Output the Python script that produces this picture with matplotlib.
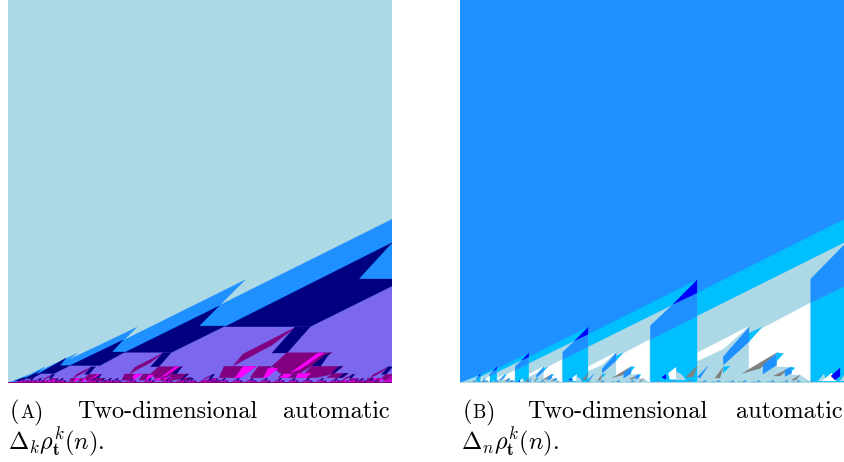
import matplotlib
matplotlib.use('Agg')
import matplotlib.pyplot as plt
from matplotlib.patches import Polygon

plt.rcParams['mathtext.fontset'] = 'cm'
plt.rcParams['font.family'] = ['cmr10', 'DejaVu Serif']
plt.rcParams['axes.formatter.use_mathtext'] = True

LIGHT = '#ADD8E6'
DODGER = '#1E90FF'
NAVY = '#000080'
VIOLET = '#7B68EE'
PURPLE = '#800080'
MAGENTA = '#FF00FF'
DEEP = '#00BFFF'
BLUE = '#0000FF'
GRAY = '#808080'
WHITE = '#FFFFFF'

# ---- panel A, outlines (x, y in pixels from bottom left)
a_dodger = [(384, 163.7), (212, 78), (237, 103), (116, 43), (128.7, 55.7), (60.3, 23), (69.3, 29.7),
            (32, 12.3), (37, 16.3), (17, 6), (20, 8), (0, 0), (384, 0)]
a_navy = [
    [(217, 56.3), (384, 140.3), (350.7, 104), (384, 104), (384, 97), (302, 56.3)],
    [(117, 30.7), (211, 77), (191, 57), (217, 57), (163.7, 30.7)],
    [(62, 17.5), (115, 43), (104, 31), (117, 31), (92, 17.5)],
    [(31, 9.5), (58, 25), (52, 17.5), (62, 17.5), (46, 9.5)],
    [(16, 4.5), (32, 12), (27, 9.5), (33, 9.5), (24, 4.5)],
    [(7, 2), (17, 6), (14, 4.5), (17, 4.5), (12, 2)],
]
a_violet = [(0, 0), (7, 1.5), (12, 2.2), (16, 4.5), (24, 4.5), (31, 9.5), (46, 9.5), (62, 17.5), (92, 17.5),
            (117, 31), (163.7, 31), (217, 57), (302, 56.3), (384, 97), (384, 0)]

# one purple group, drawn again smaller
a_group = [
    (PURPLE, [(288, 56), (235, 29), (225, 17), (264, 38)]),
    (NAVY, [(302, 56), (279, 30), (264, 30), (287, 56)]),
    (PURPLE, [(279, 30.3), (324, 30.3), (303.7, 17), (264, 17)]),
    (PURPLE, [(216, 16.7), (248, 16.7), (231, 5.3), (211, 5.3)]),
    (PURPLE, [(250.3, 16.7), (263.7, 16.7), (257, 5.3), (242, 5.3)]),
    (PURPLE, [(263.7, 17), (303.7, 17), (292, 9.7), (272, 9.7)]),
    (PURPLE, [(303.7, 16.7), (335.3, 16.7), (325, 9), (308, 5.3), (292, 5.3)]),
    (PURPLE, [(273.7, 9.7), (307, 9.7), (302, 5.3), (270.3, 5.3)]),
    (PURPLE, [(325.3, 9.7), (340.3, 9.7), (335, 5.3), (318.7, 5.3)]),
    (MAGENTA, [(310, 30), (316, 30), (292, 13.7), (282.7, 10.3)]),
    (NAVY, [(322, 30.3), (312.7, 17), (303.7, 17), (317, 28)]),
    (MAGENTA, [(235.3, 16.7), (248, 16.7), (232.7, 5.3), (227, 5.3)]),
    (MAGENTA, [(260.3, 14.7), (270.3, 14.7), (258.7, 5.3), (255.3, 5.3)]),
    (NAVY, [(334.3, 16.3), (330.3, 16.3), (323.7, 9.7), (326, 9.7)]),
    (MAGENTA, [(276, 9), (284, 9), (280, 5.3), (272, 5.3)]),
    (MAGENTA, [(290, 9.7), (303, 9.7), (298, 5.3), (288, 5.3)]),
    (NAVY, [(340, 9.7), (336, 9.7), (331, 5.3), (334, 5.3)]),
]
a_group_scale = [1, .54, .29, .155, .085, .29, .155, .085, .155, .085]
a_group_shift = [0, 0, 0, 0, 0, 297, 160, 85, 300, 160]
a_small_shift = [-8, 8, 30, 62, 78, 100, 118, 136, 150, 178, 192, 206, 220, 234, 248, 262, 276, 290, 304, 330, 340]

# ---- panel B
b_deep = [(385, 164), (237, 90), (237, 103), (128, 48.6), (128, 55.7), (68.7, 26), (68.7, 29.9), (36.7, 14),
          (36.7, 16), (19.5, 7.5), (19.5, 8.5), (0, 0), (385, 0)]
b_light = [(385, 140.7), (237, 66.8), (237, 90), (128, 36), (128, 48.6), (68.7, 19.4), (68.7, 26),
           (36.7, 10.4), (36.7, 14), (19.5, 5.6), (19.5, 7.5), (0, 0), (385, 0)]
b_white = [(289, 47.7), (350.7, 80.3), (350.7, 0), (289, 0)]
b_hill = [(289, 0), (289, 12), (316.7, 29.5), (316.7, 16), (331.7, 16), (331.7, 8), (340, 8), (350.7, 1), (350.7, 0)]
b_bar_blue = [(213, 78.7), (237, 103), (237, 90)]
b_bar_dodger = [(190.3, 57.3), (213, 78.7), (237, 90), (237, 66.8), (190.3, 43.5)]
b_bar_deep = [(190.3, 43.5), (237, 66.8), (237, 0), (190.3, 0)]
b_sliver = [(237.3, 22), (237.3, 30.3), (288.3, 56.3), (263.3, 34)]
b_shape = [(263.3, 26.3), (289, 55.7), (289, 41.3), (263.3, 18)]
b_shape_tip = [(289, 49.7), (301.7, 55.7), (289, 41.3)]
b_leaves = [
    (GRAY, [(282.3, 9.7), (316.7, 30.3), (300, 14.5)]),
    (DODGER, [(303, 18), (316.7, 29.5), (316.7, 18), (303, 9)]),
    (DEEP, [(316.7, 30.3), (323.5, 29.5), (316.7, 22)]),
    (GRAY, [(313.5, 7), (331.7, 16), (320, 7)]),
    (DODGER, [(325, 13), (331.7, 16), (331.7, 10), (325, 6.5)]),
    (DEEP, [(331.7, 16), (335, 15), (331.7, 12)]),
    (GRAY, [(331.7, 3), (340, 8), (336, 3)]),
    (GRAY, [(226, 6), (237.3, 17), (233, 6)]),
    (DODGER, [(237.3, 6), (248, 17), (240, 5)]),
    (GRAY, [(255, 5), (263.3, 16), (260, 5)]),
    (DEEP, [(263.3, 16), (270, 17), (263.3, 10)]),
    (WHITE, [(208.3, 9.7), (216, 15.7), (216, 3.7), (210, 3.7)]),
    (BLUE, [(201.7, 5.7), (206, 8.7), (206, 3.7)]),
    (LIGHT, [(216, 3), (216, 12), (222, 8), (226, 3)]),
]
b_group_scale = [1, .54, .29, .155, .085]
b_big_bar_dodger = [(350.7, 104), (385, 139), (385, 97), (350.7, 80.3)]
b_big_bar_deep = [(350.7, 80.3), (385, 97), (385, 0), (350.7, 0)]
b_corner = [
    (LIGHT, [(358, 2), (364, 9), (366, 2)]),
    (WHITE, [(362, 2), (371.7, 10), (376, 2)]),
    (BLUE, [(371, 7), (380, 15), (380, 7), (375, 3)]),
    (LIGHT, [(380, 2), (385, 9), (385, 2)]),
]
b_small_shift = [-12, -2, 10, 26, 42, 56, 84, 102, 116, 132, 146, 172, 188, 204, 218, 232, 246, 258, 272, 286, 300,
                 312, 326]

caption_top_a = ['(', 'A', ')', 'Two-dimensional', 'automatic']
caption_top_b = ['(', 'B', ')', 'Two-dimensional', 'automatic']
caption_math = [r'$\Delta_k\rho^k_{\mathbf{t}}(n).$', r'$\Delta_n\rho^k_{\mathbf{t}}(n).$']


def add(ax, pts, color, s=1.0, dx=0.0):
    ax.add_patch(Polygon([(x * s + dx, y * s) for x, y in pts], closed=True, fc=color, ec=color, lw=0.2))


fig = plt.figure(figsize=(8.45, 4.62), dpi=100)
ax_a = fig.add_axes([8 / 845, 79 / 462, 384 / 845, 383 / 462])
ax_b = fig.add_axes([460 / 845, 79 / 462, 385 / 845, 383 / 462])
for ax, w, bg in ((ax_a, 384, LIGHT), (ax_b, 385, DODGER)):
    ax.set_xlim(0, w)
    ax.set_ylim(0, 383)
    ax.set_facecolor(bg)
    ax.set_xticks([])
    ax.set_yticks([])
    for sp in ax.spines.values():
        sp.set_visible(False)

# panel A
add(ax_a, a_dodger, DODGER)
add(ax_a, a_violet, VIOLET)
for p in a_navy:
    add(ax_a, p, NAVY)
for s, dx in zip(a_group_scale, a_group_shift):
    for col, p in a_group:
        add(ax_a, p, col, s, dx)
for dx in a_small_shift:
    for col, p in a_group:
        add(ax_a, p, col, .085, dx)
ax_a.fill_between([0, 384], 0, 1.2, color=PURPLE, lw=0)

# panel B
add(ax_b, b_deep, DEEP)
add(ax_b, b_light, LIGHT)
for s in b_group_scale:
    add(ax_b, b_white, WHITE, s)
    add(ax_b, b_hill, LIGHT, s)
    add(ax_b, b_sliver, WHITE, s)
    add(ax_b, b_shape, DODGER, s)
    add(ax_b, b_shape_tip, DEEP, s)
    add(ax_b, b_bar_deep, DEEP, s)
    add(ax_b, b_bar_dodger, DODGER, s)
    add(ax_b, b_bar_blue, BLUE, s)
    for col, p in b_leaves:
        add(ax_b, p, col, s)
add(ax_b, b_big_bar_deep, DEEP)
add(ax_b, b_big_bar_dodger, DODGER)
for col, p in b_corner:
    add(ax_b, p, col)
for dx in b_small_shift:
    add(ax_b, b_hill, LIGHT, .085, dx)
    for col, p in b_leaves:
        add(ax_b, p, col, .085, dx)
ax_b.fill_between([0, 385], 0, 1.4, color=LIGHT, lw=0)

# captions
fs = 17.5
small = 13.5
top_y = 1 - 418 / 462
bot_y = 1 - 449 / 462
for x_pos, words, sym in (((10, 20, 34, 77, 283, 8), caption_top_a, caption_math[0]),
                          ((463, 472, 486, 527, 736, 461), caption_top_b, caption_math[1])):
    for x, word, size in zip(x_pos, words, (fs, small, fs, fs, fs)):
        fig.text(x / 845, top_y, word, fontsize=size, va='baseline')
    fig.text(x_pos[5] / 845, bot_y, sym, fontsize=17.5, va='baseline')

fig.savefig('out.png', dpi=100)
